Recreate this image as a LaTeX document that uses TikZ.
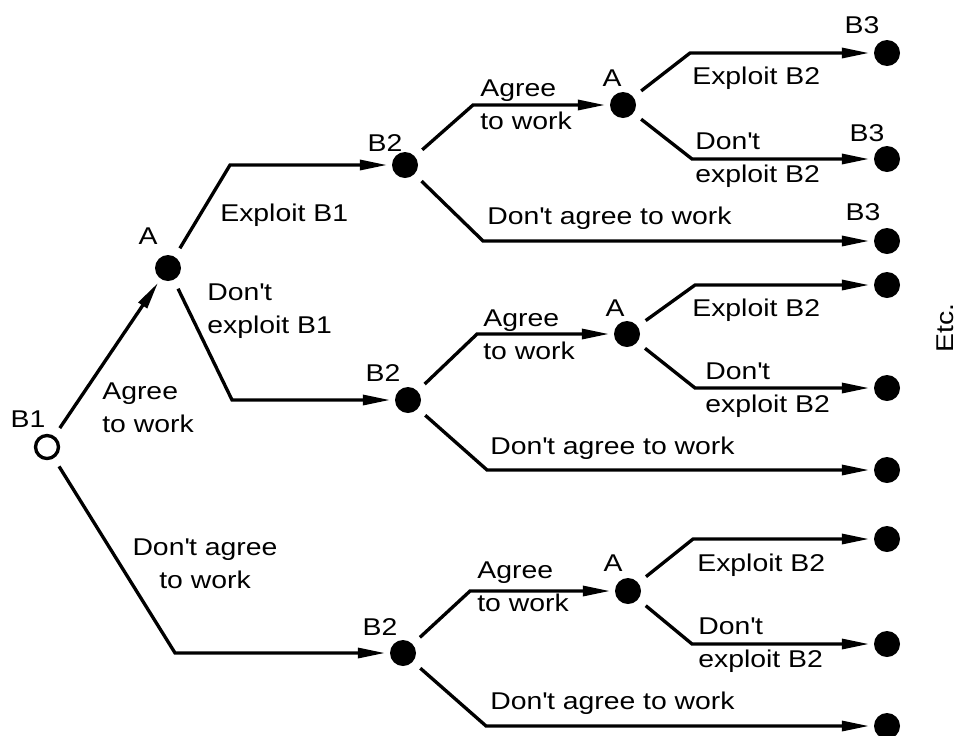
\documentclass[tikz,border=0pt]{standalone}
\usepackage{fontspec}
\setmainfont{Liberation Sans}[FakeStretch=1.17]
\usetikzlibrary{arrows.meta}

\newcommand{\dont}{Don\textquotesingle t}

\tikzset{
  dot/.style={circle, fill=black, inner sep=0pt, minimum size=0.52cm},
  opendot/.style={circle, draw=black, line width=1.9pt, inner sep=0pt, minimum size=0.46cm},
  tag/.style={inner sep=0pt},
  txt/.style={inner sep=0pt, anchor=west, align=left},
  move/.style={line width=1.9pt, shorten <=5.5pt, shorten >=2.5pt,
               -{Triangle[length=0.55cm, width=0.2cm]}},
}

\begin{document}
\begin{tikzpicture}[x=0.02cm, y=-0.02cm, font=\fontsize{13.8}{18.5}\selectfont]

    \useasboundingbox (0,0) rectangle (962,735);

    % decision points
    \node[opendot] (B1) at (47,447) {};
    \node[dot] (A1) at (168,268) {};

    \node[dot] (B2a) at (405,165) {};
    \node[dot] (B2b) at (408,400) {};
    \node[dot] (B2c) at (403,653) {};

    \node[dot] (Aa) at (623,105) {};
    \node[dot] (Ab) at (627,334) {};
    \node[dot] (Ac) at (628,591) {};

    % outcomes
    \node[dot] (Ea1) at (887,53) {};
    \node[dot] (Ea2) at (887,159) {};
    \node[dot] (Ea3) at (887,241) {};
    \node[dot] (Eb1) at (887,285) {};
    \node[dot] (Eb2) at (887,388) {};
    \node[dot] (Eb3) at (887,470) {};
    \node[dot] (Ec1) at (887,539) {};
    \node[dot] (Ec2) at (887,644) {};
    \node[dot] (Ec3) at (887,726) {};

    % player names
    \node[tag] (lB1) at (28,419) {B1};
    \node[tag] (lA1) at (148,236) {A};
    \node[tag] (lB2a) at (385,143) {B2};
    \node[tag] (lB2b) at (383,373) {B2};
    \node[tag] (lB2c) at (380,627) {B2};
    \node[tag] (lAa) at (612,78) {A};
    \node[tag] (lAb) at (615,308) {A};
    \node[tag] (lAc) at (613,563) {A};
    \node[tag] (lB3a) at (862,25) {B3};
    \node[tag] (lB3b) at (867,133) {B3};
    \node[tag] (lB3c) at (863,212) {B3};

    % first moves
    \draw[move] (B1) -- (A1);
    \draw[move] (A1) -- ([xshift=-3.5cm]B2a.center) -- (B2a);
    \draw[move] (A1) -- ([xshift=-3.52cm]B2b.center) -- (B2b);
    \draw[move] (B1) -- ([xshift=-4.56cm]B2c.center) -- (B2c);

    \node[txt] (agree1) at (102,408) {Agree\\to work};
    \node[txt] (exploit1) at (220,215) {Exploit B1};
    \node[txt] (noexploit1) at (207,311) {\dont\\exploit B1};
    \node[tag, align=center] (noagree1) at (205,564) {\dont{} agree\\to work};

    % B2 answers
    \draw[move] (B2a) -- ([xshift=-3cm]Aa.center) -- (Aa);
    \draw[move] (B2a) -- ([xshift=-8.08cm]Ea3.center) -- (Ea3);
    \draw[move] (B2b) -- ([xshift=-3cm]Ab.center) -- (Ab);
    \draw[move] (B2b) -- ([xshift=-8cm]Eb3.center) -- (Eb3);
    \draw[move] (B2c) -- ([xshift=-3.16cm]Ac.center) -- (Ac);
    \draw[move] (B2c) -- ([xshift=-8.02cm]Ec3.center) -- (Ec3);

    \node[txt] (agree2a) at (480,105) {Agree\\to work};
    \node[txt] (agree2b) at (483,335) {Agree\\to work};
    \node[txt] (agree2c) at (477,587) {Agree\\to work};
    \node[txt] (noagree2a) at (487,218) {\dont{} agree to work};
    \node[txt] (noagree2b) at (490,448) {\dont{} agree to work};
    \node[txt] (noagree2c) at (490,703) {\dont{} agree to work};

    % A's second choice
    \draw[move] (Aa) -- ([xshift=-3.94cm]Ea1.center) -- (Ea1);
    \draw[move] (Aa) -- ([xshift=-3.9cm]Ea2.center) -- (Ea2);
    \draw[move] (Ab) -- ([xshift=-3.84cm]Eb1.center) -- (Eb1);
    \draw[move] (Ab) -- ([xshift=-3.84cm]Eb2.center) -- (Eb2);
    \draw[move] (Ac) -- ([xshift=-3.88cm]Ec1.center) -- (Ec1);
    \draw[move] (Ac) -- ([xshift=-3.9cm]Ec2.center) -- (Ec2);

    \node[txt] (exploit2a) at (692,78) {Exploit B2};
    \node[txt] (exploit2b) at (692,310) {Exploit B2};
    \node[txt] (exploit2c) at (697,565) {Exploit B2};
    \node[txt] (noexploit2a) at (695,160) {\dont\\exploit B2};
    \node[txt] (noexploit2b) at (705,390) {\dont\\exploit B2};
    \node[txt] (noexploit2c) at (698,645) {\dont\\exploit B2};

    \node[rotate=90] (etc) at (945,328) {Etc.};

\end{tikzpicture}
\end{document}
